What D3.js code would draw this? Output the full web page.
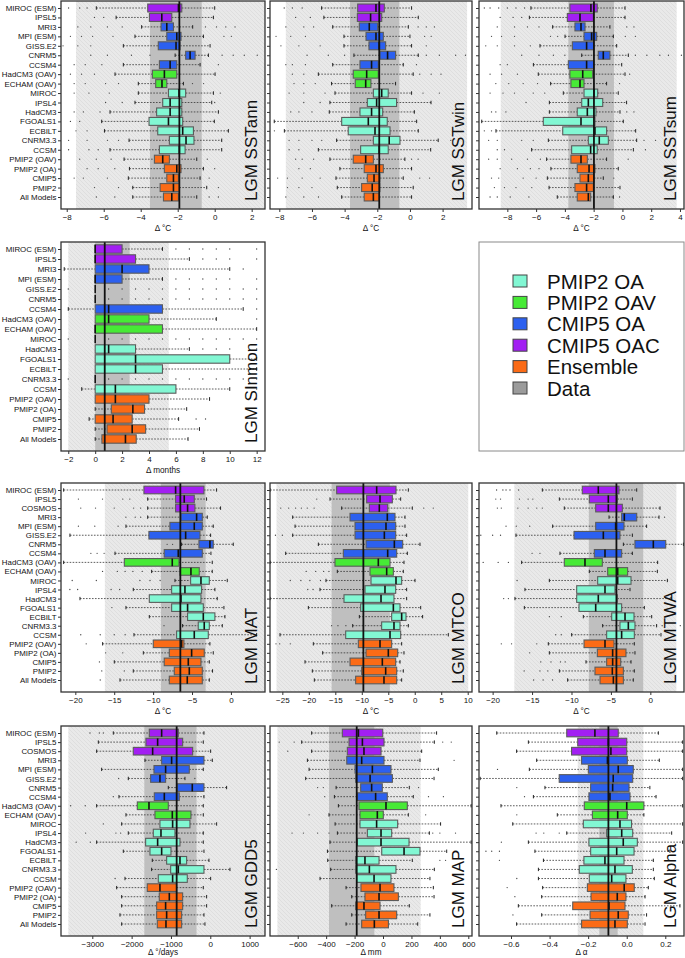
<!DOCTYPE html>
<html>
<head>
<meta charset="utf-8">
<script src="https://cdn.jsdelivr.net/npm/d3@7"></script>
<style>
  body { margin: 0; background: #fff; }
  text { font-family: "Liberation Sans", Arial, sans-serif; }
</style>
</head>
<body>
<svg id="chart" width="685" height="958"></svg>
<script>
// model names, top to bottom
var catsSST = ["MIROC (ESM)", "IPSL5", "MRI3", "MPI (ESM)", "GISS.E2", "CNRM5", "CCSM4",
  "HadCM3 (OAV)", "ECHAM (OAV)", "MIROC", "IPSL4", "HadCM3", "FGOALS1", "ECBILT", "CNRM3.3",
  "CCSM", "PMIP2 (OAV)", "PMIP2 (OA)", "CMIP5", "PMIP2", "All Models"];
var catsSI = ["MIROC (ESM)", "IPSL5", "MRI3", "MPI (ESM)", "GISS.E2", "CNRM5", "CCSM4",
  "HadCM3 (OAV)", "ECHAM (OAV)", "MIROC", "HadCM3", "FGOALS1", "ECBILT", "CNRM3.3",
  "CCSM", "PMIP2 (OAV)", "PMIP2 (OA)", "CMIP5", "PMIP2", "All Models"];
var catsLand = ["MIROC (ESM)", "IPSL5", "COSMOS", "MRI3", "MPI (ESM)", "GISS.E2", "CNRM5", "CCSM4",
  "HadCM3 (OAV)", "ECHAM (OAV)", "MIROC", "IPSL4", "HadCM3", "FGOALS1", "ECBILT", "CNRM3.3",
  "CCSM", "PMIP2 (OAV)", "PMIP2 (OA)", "CMIP5", "PMIP2", "All Models"];

var groupNames = ["PMIP2 OA", "PMIP2 OAV", "CMIP5 OA", "CMIP5 OAC", "Ensemble", "Data"];
var groupColors = ["#82f7d3", "#47ea36", "#2c60ef", "#a21ff2", "#fb6b16", "#9b9b9b"];
var modelGroup = {
  "MIROC (ESM)": "CMIP5 OAC", "IPSL5": "CMIP5 OAC", "COSMOS": "CMIP5 OAC",
  "MRI3": "CMIP5 OA", "MPI (ESM)": "CMIP5 OA", "GISS.E2": "CMIP5 OA", "CNRM5": "CMIP5 OA", "CCSM4": "CMIP5 OA",
  "HadCM3 (OAV)": "PMIP2 OAV", "ECHAM (OAV)": "PMIP2 OAV",
  "MIROC": "PMIP2 OA", "IPSL4": "PMIP2 OA", "HadCM3": "PMIP2 OA", "FGOALS1": "PMIP2 OA",
  "ECBILT": "PMIP2 OA", "CNRM3.3": "PMIP2 OA", "CCSM": "PMIP2 OA",
  "PMIP2 (OAV)": "Ensemble", "PMIP2 (OA)": "Ensemble", "CMIP5": "Ensemble", "PMIP2": "Ensemble", "All Models": "Ensemble"
};

// box stats per model: [lower whisker, q1, median, q3, upper whisker]
var sstann = [[-6.4,-3.62,-1.96,-1.78,0.0],[-5.33,-3.53,-2.86,-2.32,-0.07],[-3.95,-2.9,-2.59,-2.23,-1.19],
  [-4.31,-2.59,-2.05,-1.82,-0.61],[-4.94,-3.05,-2.09,-1.87,-0.25],[-2.14,-1.57,-1.33,-1.06,-0.34],
  [-4.94,-2.99,-2.41,-2.05,-0.79],[-5.39,-3.37,-2.72,-2.05,0.02],[-4.13,-3.19,-2.85,-2.59,-1.69],
  [-4.13,-2.5,-1.93,-1.57,-0.07],[-4.31,-2.81,-2.41,-1.78,-0.16],[-5.66,-3.14,-2.41,-1.78,0.2],
  [-6.11,-3.55,-2.5,-1.73,-0.02],[-5.96,-3.08,-1.73,-1.15,0.74],[-4.63,-2.45,-1.55,-1.12,0.38],
  [-5.66,-2.99,-1.91,-1.6,0.38],[-4.9,-3.26,-2.81,-2.45,-0.97],[-4.61,-2.72,-2.05,-1.82,-0.61],
  [-4.67,-2.59,-2.23,-1.96,-0.79],[-4.43,-2.95,-2.23,-1.91,-0.43],[-4.43,-2.77,-2.32,-1.96,-0.97]];
var sstannOut = [[-7.9,-7.3,-6.9],[-6.5,-6.0],[-7.4,-6.7,-5.8,-5.0,-0.5,0.1,0.6,1.1],[-7.8,-7.2,-6.6,-5.5,0.5,0.9],
  [-8.2,-7.4,-6.7],[-6.7,-5.8,-4.5,-3.5,0.4,1.0,1.6,2.3],[-7.6,-7.0,-6.1,0.2],[-7.8,-7.2,-6.5],
  [-7.6,-7.0,-5.9,-5.2,-1.2,-0.6],[-7.6,-6.8,-5.7,0.3],[-5.9,-5.0,0.0],[-7.6,-7.1,-6.2],[-7.8,-7.3],
  [-7.5,-6.9],[-7.9,-6.9,-5.8,-5.2],[-7.9,-6.8,-6.3],[-7.3,-6.4,-5.6,-0.4],[-6.9,-6.3,-5.4,0.0],
  [-7.6,-7.1,-5.8,-0.3],[-6.5,-5.2,0.2],[-6.4,-5.4,-0.3,0.2]];

var sstwin = [[-5.41,-3.2,-2.08,-1.57,0.1],[-5.27,-3.22,-2.41,-1.73,0.51],[-4.73,-3.1,-2.49,-1.98,-0.1],
  [-4.04,-2.69,-2.08,-1.63,0.0],[-4.04,-2.51,-1.88,-1.49,0.1],[-3.43,-1.84,-1.37,-0.88,0.51],
  [-4.73,-3.06,-2.35,-1.94,-0.41],[-5.61,-3.47,-2.65,-1.94,0.2],[-4.8,-3.35,-2.71,-2.39,-0.88],
  [-4.59,-2.24,-1.73,-1.33,0.1],[-4.9,-2.61,-2.04,-0.82,1.29],[-4.94,-3.06,-2.35,-1.67,0.27],
  [-8.31,-4.18,-2.55,-1.39,0.41],[-7.69,-3.78,-2.14,-1.22,0.51],[-4.49,-2.24,-1.27,-0.61,1.73],
  [-5.61,-3.02,-1.88,-1.33,1.27],[-4.9,-3.47,-2.71,-2.24,-0.31],[-4.29,-2.8,-2.08,-1.63,0.1],
  [-4.53,-2.61,-2.2,-1.84,-0.41],[-4.45,-2.96,-2.31,-1.84,0.2],[-4.18,-2.8,-2.24,-1.88,0.1]];
var sstwinOut = [[-7.7,-7.2,-6.6],[-7.0,-6.1],[-7.6,-6.5,-5.9,0.5,1.0,1.5],[-8.2,-7.3,-6.4,0.9,1.3],
  [-7.9,-6.8,-5.5,1.0],[-6.3,-5.0,-4.0,1.0,1.8,2.8,3.4],[-7.6,-7.2,-6.4,0.4],[-7.2,-6.5,0.6,1.3,1.9],
  [-7.1,-6.5,-5.8],[-7.4,-6.5,-5.2,0.8,1.8],[-6.5,-5.5],[-7.3,-6.8,-6.0],[],[-8.3],
  [-7.4,-6.8,-6.0,-5.4,2.5],[-7.4,-6.8],[-7.0,-6.6,-5.9,0.1,0.5],[-6.8,-6.1],
  [-8.1,-7.5,-6.6,-5.5,0.6,1.2],[-7.5,-6.8,-6.0],[-7.6,-6.5,-5.6]];

var sstsum = [[-6.36,-3.65,-2.19,-1.75,0.18],[-6.47,-3.83,-2.95,-2.02,0.18],[-4.85,-3.3,-2.88,-2.6,-0.87],
  [-3.99,-2.67,-2.14,-1.79,-0.63],[-5.73,-3.48,-2.49,-1.98,-0.4],[-2.83,-1.68,-1.33,-0.87,0.41],
  [-6.19,-3.76,-2.49,-1.98,-0.05],[-5.85,-3.65,-2.76,-2.07,0.18],[-4.99,-3.58,-2.95,-2.67,-1.1],
  [-4.11,-2.67,-1.98,-1.72,-0.29],[-5.08,-2.83,-2.37,-1.37,0.29],[-5.08,-3.14,-2.44,-1.84,-0.17],
  [-9.78,-5.5,-2.88,-1.91,0.06],[-8.79,-4.15,-1.91,-1.1,0.92],[-5.15,-2.37,-1.61,-0.98,0.99],
  [-6.31,-3.53,-2.21,-1.75,0.76],[-5.27,-3.58,-2.88,-2.44,-1.1],[-4.97,-3.14,-2.32,-1.91,-0.29],
  [-5.22,-2.95,-2.37,-1.98,-1.33],[-5.1,-3.3,-2.49,-2.02,-0.17],[-4.53,-3.14,-2.37,-2.21,-0.63]];
var sstsumOut = [[-9.6,-9.2,-8.6,-8.0,-7.4,-6.8],[-8.5,-7.6,-7.0],[-8.7,-7.5,-6.6,-5.8,0.3,0.8],
  [-9.1,-8.4,-7.5,-5.0,-4.5,0.2,0.9],[-9.5,-8.7,-7.5,-6.4],[-7.0,-5.8,-4.8,-4.0,0.9,1.7,2.6,3.2,4.1],
  [-8.5,-8.0],[-9.2,-8.4,-7.3,0.5],[-8.8,-7.9,-6.9,-5.9,-0.2],[-9.2,-8.3,-7.5,-6.2,-5.4],[-6.7],
  [-9.1,-8.8,-8.1,0.3,0.8],[],[-9.6,-9.1],[-9.3,-8.7,-7.0,-6.2,1.5,2.3],[-8.7,-8.2,1.6],
  [-9.3,-8.7,-7.7,-6.6,-5.7,0.4],[-8.5,-7.3,-6.4,-5.8],[-9.1,-8.6,-6.9,-6.0,-0.6],
  [-8.9,-8.2,-7.4,-6.3],[-9.2,-8.7,-7.8,-6.5,-0.2]];

var sinmon = [[0,0,0,2,5],[0,0,0,3,7],[-2.3,0,2,4,10],[0,0,0,2,5],[0,0,0,0,0],[0,0,0,0,0],
  [-2,0,1,5,11],[0,0,1,4,9],[0,0,0,5,12],[0,0,0,0,0],[0,0,1,3,7],[0,0,3,10,12],[0,0,3,5,12],
  [0,0,0,0,0],[-1,0,1.5,6,10],[0,0,1.5,4,8.5],[0,1.2,2.8,3.67,6.8],[-0.45,0,1.33,2.75,6.2],
  [0,0.88,2.75,3.75,7.75],[0,0.5,2.25,3.05,6.9]];
var sinmonOut = [[6,7,8,9,10,12],[8,9,10,12],[11],[6,7,8,9,10,12],[-2,1,2,3,4,5,6,7,8,9,10,11,12],
  [1,2,3,4,5,6,7,8,9,10,11,12],[12],[12],[],[-2,1,2,3,4,5,6,7,8,9,10,11,12],[8,9,10,12],[],[],
  [-2,1,2,3,4,5,6,7,8,9,10,11,12],[12],[12],[],[7.5,8.2],[],[]];

var mat = [[-21.5,-11.18,-7.11,-3.47,-1.84],[-10.7,-7.11,-6.0,-4.71,-3.13],[-10.7,-7.11,-5.57,-4.63,-1.33],
  [-10.7,-6.42,-4.41,-3.68,-3.04],[-13.49,-7.84,-4.71,-3.68,-2.27],[-20.69,-10.54,-5.82,-3.98,-2.61],
  [-6.34,-4.11,-2.7,-2.27,0.3],[-14.9,-8.57,-6.77,-3.68,-2.57],[-21.5,-13.7,-7.54,-6.68,-2.4],
  [-10.19,-6.55,-5.14,-4.07,-2.4],[-7.19,-5.18,-3.85,-2.78,-0.47],[-12.55,-7.62,-5.91,-3.77,-2.06],
  [-19.4,-10.49,-6.42,-3.85,-1.76],[-13.49,-7.62,-5.57,-3.55,-0.9],[-10.49,-5.57,-3.55,-2.06,-0.77],
  [-6.21,-4.2,-3.43,-2.78,-1.11],[-12.46,-6.98,-4.71,-2.91,3.3],[-16.49,-9.98,-6.34,-6.04,-2.7],
  [-11.26,-7.92,-5.05,-3.43,-2.27],[-14.99,-8.57,-5.48,-3.85,-2.78],[-12.55,-7.28,-5.35,-3.68,-2.36],
  [-14.26,-7.92,-5.61,-3.68,-2.78]];
var matOut = [[],[-19.6,-16.5,-13.9,-13.0],[-19.3,-17.4,-15.0,-12.5,-11.6],[-13.5,-12.3,-11.6],
  [-19.6,-17.5,-14.5],[],[-8.2,-7.5],[-18.0,-17.2,-16.3],[],[-16.5,-14.6,-13.6,-12.6,-11.4],
  [-20.4,-17.3,-11.7,-10.4,-9.1],[-20.7,-19.7,-15.4,-14.3],[],[-15.3],[],[-8.6],
  [-19.3,-16.8,-15.0,-13.6],[-18.6],[-16.1,-13.9],[-16.9],[-16.6,-13.7],[-16.8]];

var mtco = [[-27.3,-14.74,-7.19,-3.54,-1.21],[-16.0,-9.08,-6.56,-4.23,-2.66],[-13.8,-8.57,-6.69,-5.11,-0.46],
  [-23.05,-12.22,-5.18,-3.73,-1.84],[-22.6,-11.28,-5.43,-3.6,-1.84],[-23.05,-11.28,-5.74,-3.6,-1.53],
  [-18.2,-9.2,-3.85,-2.28,0.99],[-24.37,-13.48,-5.11,-3.41,-1.4],[-27.3,-15.06,-6.88,-4.67,-2.03],
  [-14.62,-8.45,-5.3,-4.04,-2.16],[-16.76,-8.26,-3.54,-2.47,0.05],[-17.89,-9.39,-5.62,-3.6,-1.53],
  [-27.3,-13.36,-6.37,-3.92,-1.53],[-20.09,-10.21,-4.04,-2.78,1.12],[-10.46,-4.36,-2.47,-1.65,1.49],
  [-11.72,-6.25,-3.92,-2.78,-1.21],[-25.44,-13.04,-4.67,-2.66,6.34],[-19.15,-10.65,-6.56,-4.36,-2.47],
  [-17.39,-9.2,-4.99,-3.22,-2.03],[-20.72,-12.22,-6.12,-3.6,-2.78],[-19.34,-10.02,-5.49,-3.41,-2.16],
  [-18.96,-11.16,-5.81,-3.41,-2.47]];
var mtcoOut = [[],[-18.5],[-25.3,-23.8,-22.5,-21.4,-20.3,-19.0,1.7,3.5],[],[],[-26.3,-25.0],[],[],[],
  [-20.5,-18.7,-17.2,-16.2],[-23.5,-21.5,-19.8,-17.8],[-20.2,-19.2],[],[],[],[-15.7,-14.5,-13.0],[],
  [-26.2,-25.5,-23.5],[],[],[],[]];

var mtwa = [[-13.7,-8.63,-6.6,-3.97,-1.73],[-11.54,-7.74,-5.33,-4.19,-2.28],[-10.91,-6.93,-5.33,-3.55,1.23],
  [-5.24,-3.64,-3.3,-1.73,1.1],[-12.39,-6.93,-4.4,-3.34,-0.47],[-17.04,-9.68,-5.96,-3.85,-2.28],
  [-3.42,-1.95,0.38,1.95,4.2],[-11.46,-7.1,-5.75,-3.64,-2.28],[-16.32,-10.91,-8.29,-6.09,0.93],
  [-7.74,-5.41,-4.14,-2.88,0.89],[-12.81,-6.68,-4.14,-2.45,2.16],[-15.9,-9.34,-5.75,-4.48,-2.58],
  [-17.17,-9.34,-6.6,-4.19,2.62],[-15.98,-9.05,-6.93,-3.64,-0.76],[-8.5,-4.9,-3.21,-2.07,0.17],
  [-6.05,-3.85,-2.79,-1.95,0.8],[-9.98,-5.54,-3.64,-2.03,1.35],[-12.94,-8.41,-5.75,-4.61,-2.03],
  [-12.81,-6.72,-4.78,-3.09,-1.95],[-8.16,-5.54,-4.78,-3.76,-2.45],[-11.54,-7.02,-4.82,-3.42,-2.03],
  [-10.49,-6.38,-4.69,-3.42,-2.16]];
var mtwaOut = [[-19.5,-18.7,-18.3,-17.8,-16.7],[-19.6,-19.0,-16.6,-15.5,-14.9],[-19.4,-18.9,-16.8,-15.5,-14.4,-13.7],
  [1.8],[-18.3,-17.0,-15.3],[-21.5,-20.0,-19.0],[],[-15.0,-14.0],[-21.2,-19.3,-18.0],[],[-16.9],[],
  [-18.6,-18.0],[],[-12.8,-11.3],[1.5,3.8],[-12.0,-11.3],[-18.9,-17.6,-14.4],[-15.3],
  [-13.9,-12.6,-11.4,-10.8],[-16.0,-14.0,-13.0],[-14.8,-13.6,-12.4]];

var gdd5 = [[-2466,-1551,-1237,-813,-161],[-2847,-1636,-1339,-703,-178],[-2890,-1958,-1466,-449,9],
  [-1661,-1237,-983,-161,51],[-2763,-1432,-1136,-534,-178],[-2085,-1517,-1280,-1136,-644],
  [-1068,-839,-458,-161,415],[-2322,-1424,-1169,-788,-161],[-2890,-1856,-1559,-1068,-178],
  [-2144,-1407,-966,-492,-178],[-2254,-1280,-958,-517,161],[-2085,-1449,-1254,-898,-178],
  [-2890,-1644,-1339,-771,-178],[-2212,-1534,-1237,-1000,-161],[-1475,-1110,-771,-602,-34],
  [-1492,-1008,-813,-161,500],[-2169,-1322,-958,-585,9],[-2381,-1602,-1280,-856,-178],
  [-2254,-1297,-1042,-703,-93],[-2254,-1364,-1136,-703,-93],[-2297,-1364,-1110,-729,-161],
  [-2254,-1347,-1127,-729,-136]];
var gdd5Out = [[-3059,-2822,-2720],[],[],[],[],[-2330,-393],[],[-2466],[-3550,-3180],[],[-2720],
  [-3170,-2400,-2280],[-3410,-3050],[],[],[],[-2420],[],[],[],[],[]];

var map = [[-502,-286,-173,-2,377],[-572,-239,-145,7,361],[-502,-251,-134,-14,272],[-532,-255,-150,7,260],
  [-520,-197,-75,56,389],[-544,-192,-91,66,359],[-330,-157,-80,-5,185],[-342,-180,-52,30,213],
  [-314,-169,21,171,620],[-380,-162,-40,2,178],[-337,-162,-45,103,405],[-321,-110,-14,61,326],
  [-373,-180,-14,183,620],[-391,-9,148,260,448],[-389,-192,-127,-28,206],[-368,-192,-96,91,361],
  [-443,-185,-63,56,330],[-260,-155,-21,77,354],[-220,-127,-28,108,359],[-361,-192,-134,-21,185],
  [-220,-122,-28,96,330],[-260,-150,-61,38,244]];
var mapOut = [[],[-730,-625,420,480],[-670],[500],[],[],[-460,-420,250],[-410,320,425],[],[-520,300],[],
  [-640,-560,-460,-380,350,400,510],[],[],[400,440],[-750],[],[],[],[],[],[]];

var alpha = [[-0.674,-0.311,-0.165,-0.044,0.164],[-0.51,-0.254,-0.095,0.0,0.29],[-0.571,-0.286,-0.082,0.0,0.29],
  [-0.467,-0.234,-0.1,0.003,0.169],[-0.505,-0.199,-0.044,0.034,0.29],[-0.76,-0.35,-0.07,0.031,0.29],
  [-0.424,-0.187,-0.073,0.012,0.12],[-0.484,-0.196,-0.087,0.017,0.152],[-0.652,-0.22,0.0,0.089,0.29],
  [-0.36,-0.178,-0.047,0.003,0.089],[-0.591,-0.225,-0.035,0.025,0.29],[-0.311,-0.104,-0.026,0.031,0.233],
  [-0.51,-0.196,-0.018,0.055,0.29],[-0.476,-0.187,-0.052,0.038,0.224],[-0.432,-0.222,-0.113,-0.014,0.138],
  [-0.458,-0.246,-0.061,0.029,0.138],[-0.458,-0.194,-0.078,-0.004,0.143],[-0.436,-0.204,-0.013,0.039,0.112],
  [-0.441,-0.185,-0.049,-0.004,0.095],[-0.562,-0.28,-0.092,-0.009,0.276],[-0.441,-0.19,-0.044,0.008,0.103],
  [-0.571,-0.234,-0.061,0.003,0.095]];
var alphaOut = [[],[],[],[],[-0.67],[],[-0.57],[-0.53],[],[-0.57],[],[-0.47,-0.43,-0.35],[-0.65],
  [-0.73,-0.70,-0.66],[-0.66],[],[-0.57],[-0.62],[-0.58],[],[-0.59],[]];

// reconstruction ranges: [outer lo, outer hi, inner lo, inner hi, mean]
var sstannData = [-7.5, 2.8, -3.5, -0.7, -1.91];
var sstwinData = [-7.6, 3.5, -3.67, -0.65, -1.88];
var sstsumData = [-8.46, 3.77, -3.76, -0.59, -1.98];
var sinmonData = [-2.0, 5.47, 0, 2.56, 0.71];
var matData = [-16.2, 4.5, -9.0, -3.25, -6.5];
var mtcoData = [-26.1, 10.1, -15.7, -4.7, -9.7];
var mtwaData = [-17.25, 3.3, -7.8, -0.9, -4.3];
var gdd5Data = [-3610, 1400, -1678, -350, -855];
var mapData = [-743, 265, -380, -61, -185];
var alphaData = [-0.254, 0.086, -0.142, -0.047, -0.095];

var svg = d3.select("#chart");
var defs = svg.append("defs");
var pat = defs.append("pattern").attr("id", "hatch").attr("patternUnits", "userSpaceOnUse")
  .attr("width", 4).attr("height", 4);
pat.append("rect").attr("width", 4).attr("height", 4).attr("fill", "#e9e9e9");
pat.append("path").attr("d", "M-1,3 l2,2 M0,0 l4,4 M3,-1 l2,2")
  .attr("stroke", "#dadada").attr("stroke-width", 0.8);

var colX = [[61, 265], [270, 472], [479, 684]];
var rowY = [[1, 209], [242, 451], [483, 692], [726, 936]];

var panels = [
  {id: "sstann", title: "LGM SSTann", cats: catsSST, stats: sstann, outs: sstannOut, band: sstannData,
    domain: [-8.31, 2.72], ticks: d3.range(-8, 3, 2), unit: "\u0394 \u00b0C", col: 0, row: 0},
  {id: "sstwin", title: "LGM SSTwin", cats: catsSST, stats: sstwin, outs: sstwinOut, band: sstwinData,
    domain: [-8.57, 3.8], ticks: d3.range(-8, 3, 2), unit: "\u0394 \u00b0C", col: 1, row: 0},
  {id: "sstsum", title: "LGM SSTsum", cats: catsSST, stats: sstsum, outs: sstsumOut, band: sstsumData,
    domain: [-9.97, 4.28], ticks: d3.range(-8, 5, 2), unit: "\u0394 \u00b0C", col: 2, row: 0},
  {id: "sinmon", title: "LGM SInmon", cats: catsSI, stats: sinmon, outs: sinmonOut, band: sinmonData,
    domain: [-2.54, 12.62], ticks: d3.range(-2, 13, 2), unit: "\u0394 months", col: 0, row: 1},
  {id: "mat", title: "LGM MAT", cats: catsLand, stats: mat, outs: matOut, band: matData,
    domain: [-21.84, 4.38], ticks: d3.range(-20, 1, 5), unit: "\u0394 \u00b0C", col: 0, row: 2},
  {id: "mtco", title: "LGM MTCO", cats: catsLand, stats: mtco, outs: mtcoOut, band: mtcoData,
    domain: [-27.33, 10.81], ticks: d3.range(-25, 11, 5), unit: "\u0394 \u00b0C", col: 1, row: 2},
  {id: "mtwa", title: "LGM MTWA", cats: catsLand, stats: mtwa, outs: mtwaOut, band: mtwaData,
    domain: [-21.73, 4.27], ticks: d3.range(-20, 1, 5), unit: "\u0394 \u00b0C", col: 2, row: 2},
  {id: "gdd5", title: "LGM GDD5", cats: catsLand, stats: gdd5, outs: gdd5Out, band: gdd5Data,
    domain: [-3796, 1391], ticks: d3.range(-3000, 1001, 1000), unit: "\u0394 \u00b0/days", col: 0, row: 3},
  {id: "map", title: "LGM MAP", cats: catsLand, stats: map, outs: mapOut, band: mapData,
    domain: [-795, 626], ticks: d3.range(-600, 601, 200), unit: "\u0394 mm", col: 1, row: 3},
  {id: "alpha", title: "LGM Alpha", cats: catsLand, stats: alpha, outs: alphaOut, band: alphaData,
    domain: [-0.766, 0.297], ticks: [-0.6, -0.4, -0.2, 0, 0.2], fmt: d3.format(".1f"),
    unit: "\u0394 \u03b1", col: 2, row: 3}
];

function drawPanel(p) {
  var x0 = colX[p.col][0], x1 = colX[p.col][1];
  var y0 = rowY[p.row][0], y1 = rowY[p.row][1];
  var x = d3.scaleLinear().domain(p.domain).range([x0, x1]);
  var y = d3.scalePoint().domain(p.cats).range([y0 + 7, y1 - 12]);
  var bh = y.step() * 0.84;
  var color = function(c) { return groupColors[groupNames.indexOf(modelGroup[c])]; };

  defs.append("clipPath").attr("id", "clip-" + p.id).append("rect")
    .attr("x", x0).attr("y", y0).attr("width", x1 - x0).attr("height", y1 - y0);
  var g = svg.append("g").attr("clip-path", "url(#clip-" + p.id + ")");

  // data ranges behind the boxes
  g.append("rect").attr("x", x(p.band[0])).attr("y", y0)
    .attr("width", x(p.band[1]) - x(p.band[0])).attr("height", y1 - y0).attr("fill", "url(#hatch)");
  g.append("rect").attr("x", x(p.band[2])).attr("y", y0)
    .attr("width", x(p.band[3]) - x(p.band[2])).attr("height", y1 - y0).attr("fill", "#bfbfbf");

  var rows = p.cats.map(function(c, i) { return {cat: c, s: p.stats[i], out: p.outs[i] || []}; });
  var row = g.selectAll("g.row").data(rows).enter().append("g")
    .attr("transform", function(d) { return "translate(0," + y(d.cat) + ")"; });

  // whiskers
  row.append("path")
    .attr("d", function(d) {
      return "M" + x(d.s[0]) + ",0H" + x(d.s[1]) + "M" + x(d.s[3]) + ",0H" + x(d.s[4]);
    })
    .attr("stroke", "#333").attr("stroke-width", 0.8).attr("stroke-dasharray", "1.6,1.4");
  row.append("path")
    .attr("d", function(d) {
      var h = bh * 0.22;
      var s = "";
      if (d.s[0] < d.s[1]) s += "M" + x(d.s[0]) + "," + (-h) + "V" + h;
      if (d.s[4] > d.s[3]) s += "M" + x(d.s[4]) + "," + (-h) + "V" + h;
      return s || "M0,0";
    })
    .attr("stroke", "#222").attr("stroke-width", 1);

  // outliers
  row.selectAll("circle").data(function(d) { return d.out; }).enter().append("circle")
    .attr("cx", function(v) { return x(v); }).attr("cy", 0).attr("r", 0.65).attr("fill", "#444");

  // boxes
  row.append("rect")
    .attr("x", function(d) { return x(d.s[1]); })
    .attr("y", -bh / 2)
    .attr("width", function(d) { return x(d.s[3]) - x(d.s[1]); })
    .attr("height", bh)
    .attr("fill", function(d) { return color(d.cat); })
    .attr("stroke", "#5b5b5b").attr("stroke-width", 1.1);
  row.append("line")
    .attr("x1", function(d) { return x(d.s[2]); }).attr("x2", function(d) { return x(d.s[2]); })
    .attr("y1", -bh / 2).attr("y2", bh / 2)
    .attr("stroke", "#111").attr("stroke-width", 1.6);

  // reconstruction mean
  g.append("line").attr("x1", x(p.band[4])).attr("x2", x(p.band[4]))
    .attr("y1", y0).attr("y2", y1).attr("stroke", "#111").attr("stroke-width", 1.8);

  // title
  svg.append("text")
    .attr("transform", "translate(" + (x1 - 8) + "," + (y1 - 8) + ") rotate(-90)")
    .attr("font-size", 17).attr("fill", "#111").text(p.title);

  // frame
  svg.append("rect").attr("x", x0).attr("y", y0).attr("width", x1 - x0).attr("height", y1 - y0)
    .attr("fill", "none").attr("stroke", "#333").attr("stroke-width", 1.3);

  // left ticks and labels
  var yAxis = svg.append("g").attr("transform", "translate(" + x0 + ",0)")
    .call(d3.axisLeft(y).tickSize(3).tickPadding(1.5).tickFormat(p.col === 0 ? null : ""));
  yAxis.select(".domain").remove();
  yAxis.selectAll("line").attr("stroke", "#333");
  yAxis.selectAll("text").attr("font-size", 7.9).attr("fill", "#111")
    .style("font-family", "'Liberation Sans', Arial, sans-serif");

  // bottom axis
  var xAxis = svg.append("g").attr("transform", "translate(0," + y1 + ")")
    .call(d3.axisBottom(x).tickValues(p.ticks).tickSize(3).tickPadding(2)
      .tickFormat(p.fmt || d3.format("d")));
  xAxis.select(".domain").remove();
  xAxis.selectAll("line").attr("stroke", "#333");
  xAxis.selectAll("text").attr("font-size", 8).attr("fill", "#111")
    .style("font-family", "'Liberation Sans', Arial, sans-serif");
  svg.append("text").attr("x", (x0 + x1) / 2).attr("y", y1 + (p.row === 3 ? 18.5 : 22))
    .attr("text-anchor", "middle").attr("font-size", 8.2).attr("fill", "#111").text(p.unit);
}

panels.forEach(drawPanel);

// legend
var leg = svg.append("g");
leg.append("rect").attr("x", 479).attr("y", 242).attr("width", 205).attr("height", 209)
  .attr("fill", "#fff").attr("stroke", "#8a8a8a").attr("stroke-width", 1);
var ly = d3.scalePoint().domain(groupNames).range([281, 388]);
var item = leg.selectAll("g.item").data(groupNames).enter().append("g")
  .attr("transform", function(d) { return "translate(0," + ly(d) + ")"; });
item.append("rect").attr("x", 513).attr("y", -6).attr("width", 14).attr("height", 12)
  .attr("fill", function(d, i) { return groupColors[i]; }).attr("stroke", "#444").attr("stroke-width", 1);
item.append("text").attr("x", 547).attr("y", 7.5).attr("font-size", 20.5).attr("fill", "#111")
  .text(function(d) { return d; });
</script>
</body>
</html>
